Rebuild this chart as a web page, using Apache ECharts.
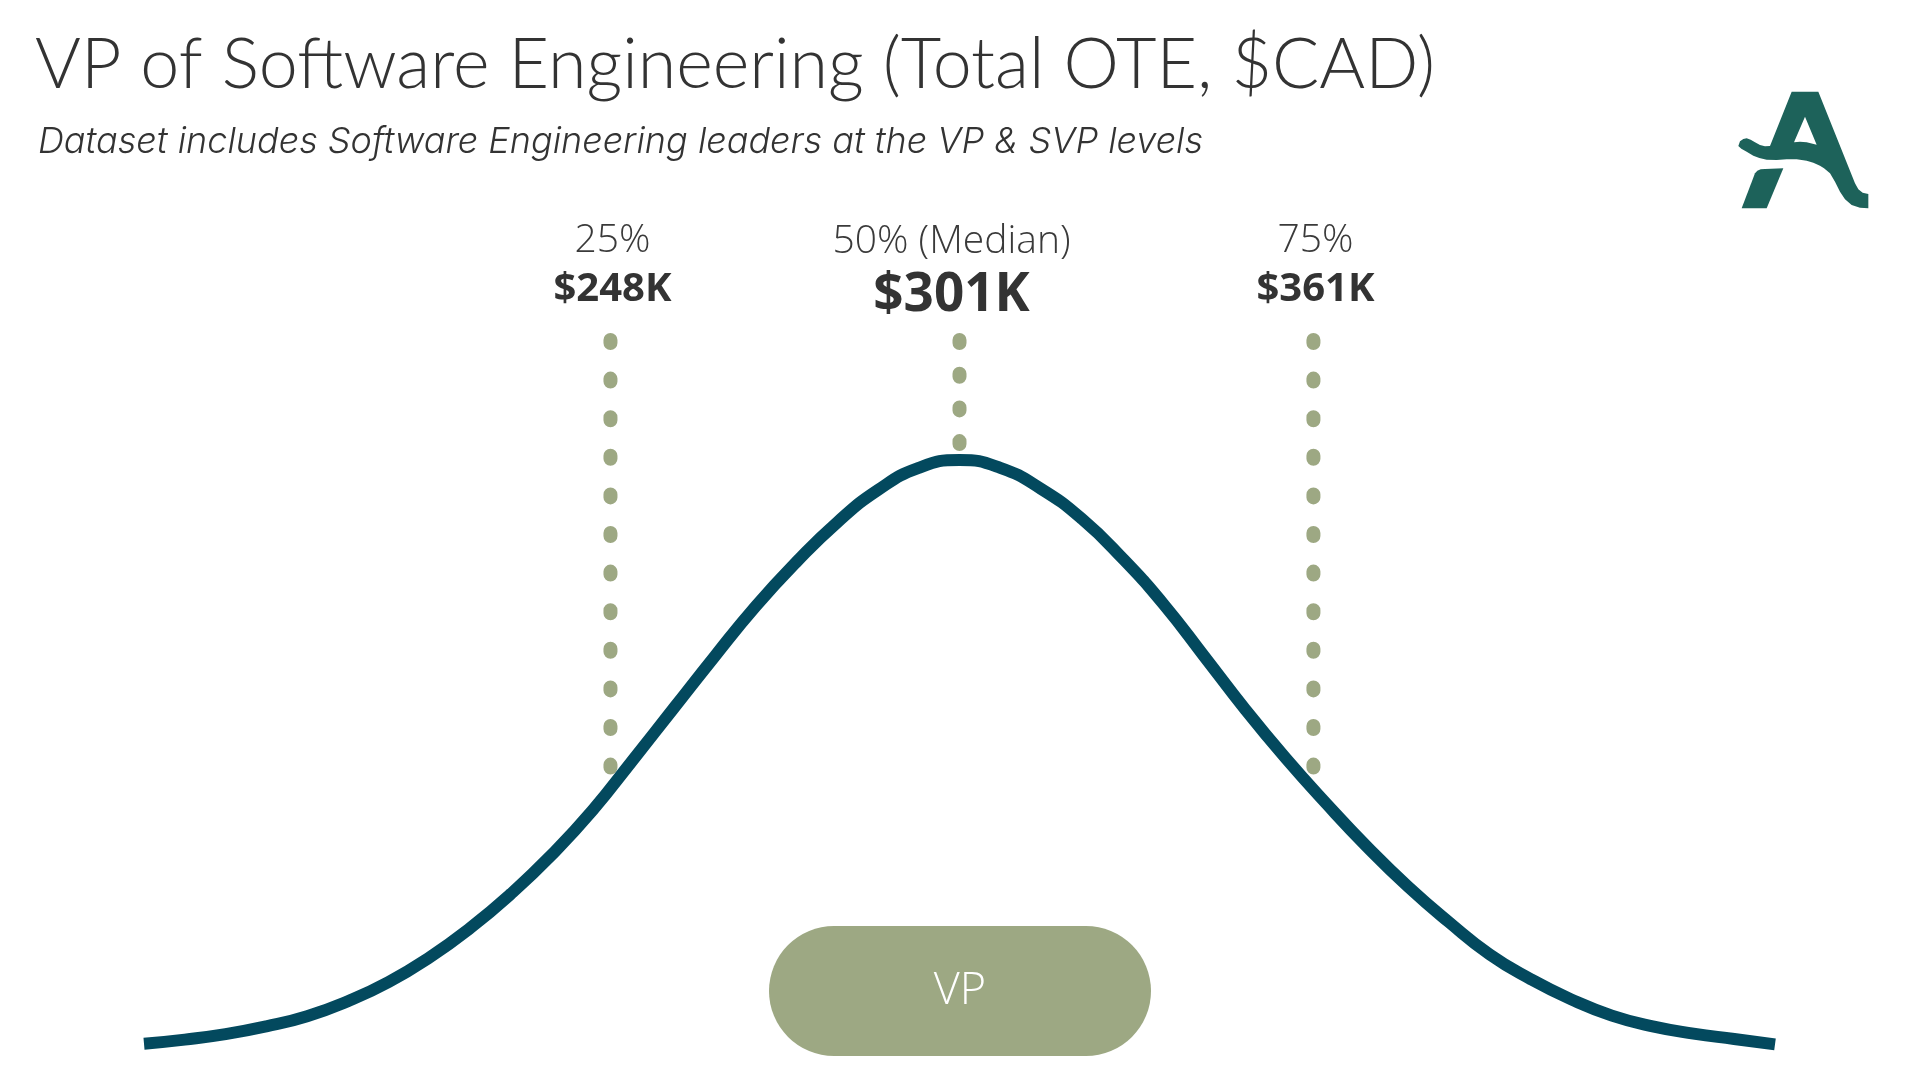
<!DOCTYPE html>
<html><head><meta charset="utf-8">
<script src="https://cdn.jsdelivr.net/npm/echarts@6/dist/echarts.min.js"></script>
<style>html,body{margin:0;padding:0;background:#fff;overflow:hidden}#c{width:1920px;height:1080px}</style>
</head><body><div id="c"></div>
<script>
// Bell curve (x: position 0-100 across the curve, y: relative height, peak = 100)
const curveX = [0, 2.5, 5, 7.5, 10, 12.5, 15, 17.5, 20, 22.5, 25, 27.5, 30, 32.5, 35, 37.5, 40, 42.5, 45, 47.5, 50,
                52.5, 55, 57.5, 60, 62.5, 65, 67.5, 70, 72.5, 75, 77.5, 80, 82.5, 85, 87.5, 90, 92.5, 95, 97.5, 100];
const curveY = [2.7, 3.4, 4.3, 5.6, 7.3, 9.8, 13.0, 17.1, 22.0, 27.7, 34.2, 41.6, 50.1, 58.7, 67.3, 75.6, 83.0, 89.6, 95.0, 98.7, 100,
                98.7, 95.2, 90.2, 83.6, 76.0, 67.3, 58.5, 50.3, 42.7, 35.5, 28.9, 23.0, 17.6, 13.5, 10.1, 7.4, 5.6, 4.4, 3.5, 2.6];

// Percentile markers
const quartileNames = ['25%', '50% (Median)', '75%'];
const quartileValues = ['$248K', '$301K', '$361K'];
const quartileX = [28.6, 50.0, 71.7];
const dotTop = 120;
const dotBottom = [48.5, 102.5, 48.5];

const titleText = 'VP of Software Engineering (Total OTE, $CAD)';
const subtitleText = 'Dataset includes Software Engineering leaders at the VP & SVP levels';
const levelName = 'VP';

const curveColor = '#03495e';
const sageColor = '#9da883';
const textColor = '#333333';
const logoColor = '#1d625a';

const chart = echarts.init(document.getElementById('c'), null, {renderer: 'canvas'});

const curveData = curveX.map((x, i) => [x, curveY[i]]);

const dotSeries = quartileX.map((x, i) => ({
  type: 'line',
  name: 'dots' + i,
  data: [[x, dotTop], [x, dotBottom[i]]],
  showSymbol: false,
  symbol: 'none',
  silent: true,
  clip: false,
  z: 1,
  lineStyle: {
    color: sageColor,
    opacity: 1,
    width: 14,
    cap: 'round',
    type: i === 1 ? [3, 30.7] : [3, 35.6]
  }
}));

const labelSeries = {
  type: 'scatter',
  name: 'labels',
  symbolSize: 0,
  silent: true,
  clip: false,
  z: 5,
  itemStyle: {opacity: 1},
  data: quartileX.map((x, i) => ({
    value: [x, dotTop],
    label: {
      show: true,
      position: 'top',
      distance: i === 1 ? 14 : 26,
      offset: i === 1 ? [-8, 0] : [2, 0],
      align: 'center',
      opacity: 1,
      formatter: i === 1 ? '{n|' + quartileNames[i] + '}\n{m|' + quartileValues[i] + '}'
                         : '{n|' + quartileNames[i] + '}\n{v|' + quartileValues[i] + '}',
      rich: {
        n: {fontFamily: 'Open Sans', fontWeight: 300, fontSize: 39, lineHeight: 48, color: '#3a3a3a', align: 'center'},
        v: {fontFamily: 'Open Sans', fontWeight: 700, fontSize: 40, lineHeight: 49, color: textColor, align: 'center'},
        m: {fontFamily: 'Open Sans', fontWeight: 700, fontSize: 53, lineHeight: 60, color: textColor, align: 'center'}
      }
    }
  }))
};

const option = {
  backgroundColor: '#ffffff',
  animation: false,
  title: [
    {
      text: titleText,
      left: 30,
      top: 25,
      textStyle: {fontFamily: 'Lato', fontWeight: 300, fontSize: 70, color: textColor}
    },
    {
      text: subtitleText,
      left: 33,
      top: 119,
      textStyle: {fontFamily: 'Inter', fontStyle: 'italic', fontWeight: 300, fontSize: 36, color: textColor}
    }
  ],
  grid: {left: 144, right: 145, top: 340, bottom: 20},
  xAxis: {type: 'value', min: 0, max: 100, show: false},
  yAxis: {type: 'value', min: 0, max: 120, show: false},
  series: [
    ...dotSeries,
    {
      type: 'line',
      name: 'curve',
      data: curveData,
      smooth: 0.5,
      showSymbol: false,
      symbol: 'none',
      silent: true,
      z: 3,
      lineStyle: {color: curveColor, width: 12, cap: 'butt', join: 'round', opacity: 1}
    },
    labelSeries
  ],
  graphic: [
    {
      type: 'rect',
      shape: {x: 769, y: 926, width: 382, height: 130, r: 65},
      style: {fill: sageColor},
      z: 10
    },
    {
      type: 'text',
      x: 960, y: 991,
      style: {text: levelName, fontFamily: 'Open Sans', fontWeight: 300, fontSize: 45, fill: '#ffffff', align: 'center', verticalAlign: 'middle'},
      z: 11
    },
    {
      type: 'group',
      x: 1720, y: 70,
      scaleX: 1 / 3, scaleY: 1 / 3,
      z: 10,
      children: [
        {
          type: 'polygon',
          shape: {points: [[215,65],[295,65],[405,340],[415,358],[428,368],[445,372],[445,415],[420,413],[395,405],[375,388],[360,365],[345,335],[330,310],[312,295],[300,287],[280,278],[260,272],[230,268],[200,268],[170,270],[140,269],[118,264],[100,257],[80,245],[64,236],[55,228],[60,214],[70,207],[80,205],[92,209],[105,217],[120,225],[135,229],[150,228]]},
          style: {fill: logoColor}
        },
        {
          type: 'polygon',
          shape: {points: [[255,140],[222,217],[240,215],[260,217],[290,224]]},
          style: {fill: '#ffffff'}
        },
        {
          type: 'polygon',
          shape: {points: [[105,310],[112,302],[122,298],[135,297],[190,295],[140,415],[65,415]]},
          style: {fill: logoColor}
        }
      ]
    }
  ]
};

chart.setOption(option);
</script>
</body></html>
